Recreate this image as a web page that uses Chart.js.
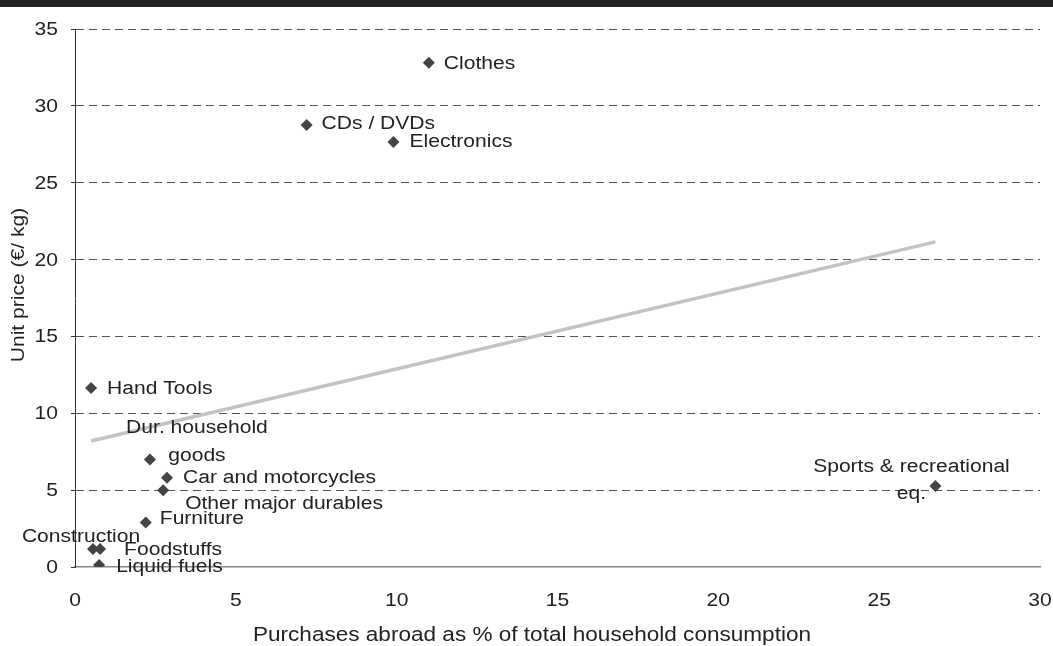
<!DOCTYPE html>
<html>
<head>
<meta charset="utf-8">
<script src="https://cdn.jsdelivr.net/npm/chart.js@4.4.0/dist/chart.umd.min.js"></script>
<style>
  html, body { margin: 0; padding: 0; background: #fff; }
  #wrap { width: 1053px; height: 646px; position: relative; }
</style>
</head>
<body>
<div id="wrap"><canvas id="c" width="1053" height="646"></canvas></div>
<script>
// ---- data ----
const categories = ['Clothes', 'CDs / DVDs', 'Electronics', 'Hand Tools', 'Dur. household goods',
  'Car and motorcycles', 'Other major durables', 'Furniture', 'Construction', 'Foodstuffs',
  'Liquid fuels', 'Sports & recreational eq.'];
const shareAbroad = [11.0, 7.2, 9.9, 0.5, 2.33, 2.86, 2.74, 2.2, 0.56, 0.78, 0.75, 26.75];
const unitPrice   = [32.8, 28.75, 27.65, 11.65, 7.0, 5.8, 5.0, 2.9, 1.17, 1.17, 0.13, 5.27];
const trendX = [0.5, 26.75];
const trendY = [8.2, 21.15];
const xTicks = [0, 5, 10, 15, 20, 25, 30];
const yTicks = [0, 5, 10, 15, 20, 25, 30, 35];
const xTitle = 'Purchases abroad as % of total household consumption';
const yTitle = 'Unit price (€/ kg)';

// label placement (pixel offsets from the marker), kept apart from the data
const labelLayout = [
  { lines: ['Clothes'], dx: 15, dy: 1, align: 'left' },
  { lines: ['CDs / DVDs'], dx: 15, dy: -1, align: 'left' },
  { lines: ['Electronics'], dx: 16, dy: 0, align: 'left' },
  { lines: ['Hand Tools'], dx: 16, dy: 1, align: 'left' },
  { lines: ['Dur. household', 'goods'], dx: 47, dy: -31, lineGap: 28, align: 'center' },
  { lines: ['Car and motorcycles'], dx: 16, dy: 0, align: 'left' },
  { lines: ['Other major durables'], dx: 22, dy: 14, align: 'left' },
  { lines: ['Furniture'], dx: 14, dy: -3, align: 'left' },
  { lines: ['Construction'], dx: -12, dy: -12, align: 'center' },
  { lines: ['Foodstuffs'], dx: 24, dy: 1, align: 'left' },
  { lines: ['Liquid fuels'], dx: 17, dy: 2, align: 'left' },
  { lines: ['Sports & recreational', 'eq.'], dx: -24, dy: -19, lineGap: 27, align: 'center' }
];

const FONT = '"Liberation Sans", Arial, Helvetica, sans-serif';
const TXT = '#222';
const SX = 1.17; // the reference face is wider than Arial

const pointData = shareAbroad.map((x, i) => ({ x: x, y: unitPrice[i] }));
const trendData = trendX.map((x, i) => ({ x: x, y: trendY[i] }));

function wideText(ctx, text, x, y, align, rot) {
  ctx.save();
  ctx.translate(x, y);
  if (rot) ctx.rotate(rot);
  ctx.scale(SX, 1);
  ctx.textAlign = align;
  ctx.fillText(text, 0, 0);
  ctx.restore();
}

const decorPlugin = {
  id: 'decor',
  beforeDraw(chart) {
    const ctx = chart.ctx;
    ctx.save();
    ctx.fillStyle = '#222';
    ctx.fillRect(0, 0, chart.width, 7);
    ctx.restore();
  },
  afterDatasetsDraw(chart) {
    const ctx = chart.ctx;
    const xs = chart.scales.x, ys = chart.scales.y;
    ctx.save();
    ctx.fillStyle = TXT;
    ctx.textBaseline = 'middle';
    ctx.font = '18px ' + FONT;
    // tick labels, positioned by the scales
    xs.ticks.forEach(t => wideText(ctx, String(t.value), xs.getPixelForValue(t.value), 601, 'center'));
    ys.ticks.forEach(t => wideText(ctx, String(t.value), 58, ys.getPixelForValue(t.value) + 1, 'right'));
    // point labels
    const meta = chart.getDatasetMeta(1);
    meta.data.forEach((pt, i) => {
      const L = labelLayout[i];
      if (!L) return;
      L.lines.forEach((line, k) => {
        wideText(ctx, line, pt.x + L.dx, pt.y + L.dy + k * (L.lineGap || 0), L.align);
      });
    });
    // axis titles
    ctx.font = '19.3px ' + FONT;
    wideText(ctx, xTitle, 532, 636, 'center');
    ctx.font = '18px ' + FONT;
    wideText(ctx, yTitle, 19, 285, 'center', -Math.PI / 2);
    ctx.restore();
  }
};

new Chart(document.getElementById('c'), {
  data: {
    datasets: [
      {
        type: 'line',
        data: trendData,
        borderColor: '#c3c3c3',
        borderWidth: 3.5,
        pointRadius: 0,
        fill: false
      },
      {
        type: 'scatter',
        data: pointData,
        pointStyle: 'rectRot',
        pointRadius: 6,
        pointBackgroundColor: '#444',
        pointBorderColor: '#444',
        pointBorderWidth: 0
      }
    ]
  },
  options: {
    responsive: false,
    animation: false,
    layout: { padding: { top: 29, right: 13, left: 0, bottom: 0 } },
    plugins: { legend: { display: false }, tooltip: { enabled: false } },
    scales: {
      x: {
        type: 'linear',
        min: 0, max: 30,
        afterBuildTicks: s => { s.ticks = xTicks.map(v => ({ value: v })); },
        afterFit: s => { s.height = 79; s.paddingLeft = 0; s.paddingRight = 0; },
        ticks: { display: false },
        grid: { display: false, drawTicks: false },
        border: { display: true, color: '#888', width: 1.5 }
      },
      y: {
        type: 'linear',
        min: 0, max: 35,
        afterBuildTicks: s => { s.ticks = yTicks.map(v => ({ value: v })); },
        afterFit: s => { s.width = 75; s.paddingTop = 0; s.paddingBottom = 0; },
        ticks: { display: false },
        grid: {
          color: c => (c.tick && c.tick.value === 0) ? 'rgba(0,0,0,0)' : '#555',
          lineWidth: 1,
          drawTicks: true,
          tickLength: 4,
          tickColor: '#333',
          tickBorderDash: []
        },
        border: { display: true, color: '#333', width: 1, dash: [8, 5] }
      }
    }
  },
  plugins: [decorPlugin]
});
</script>
</body>
</html>
